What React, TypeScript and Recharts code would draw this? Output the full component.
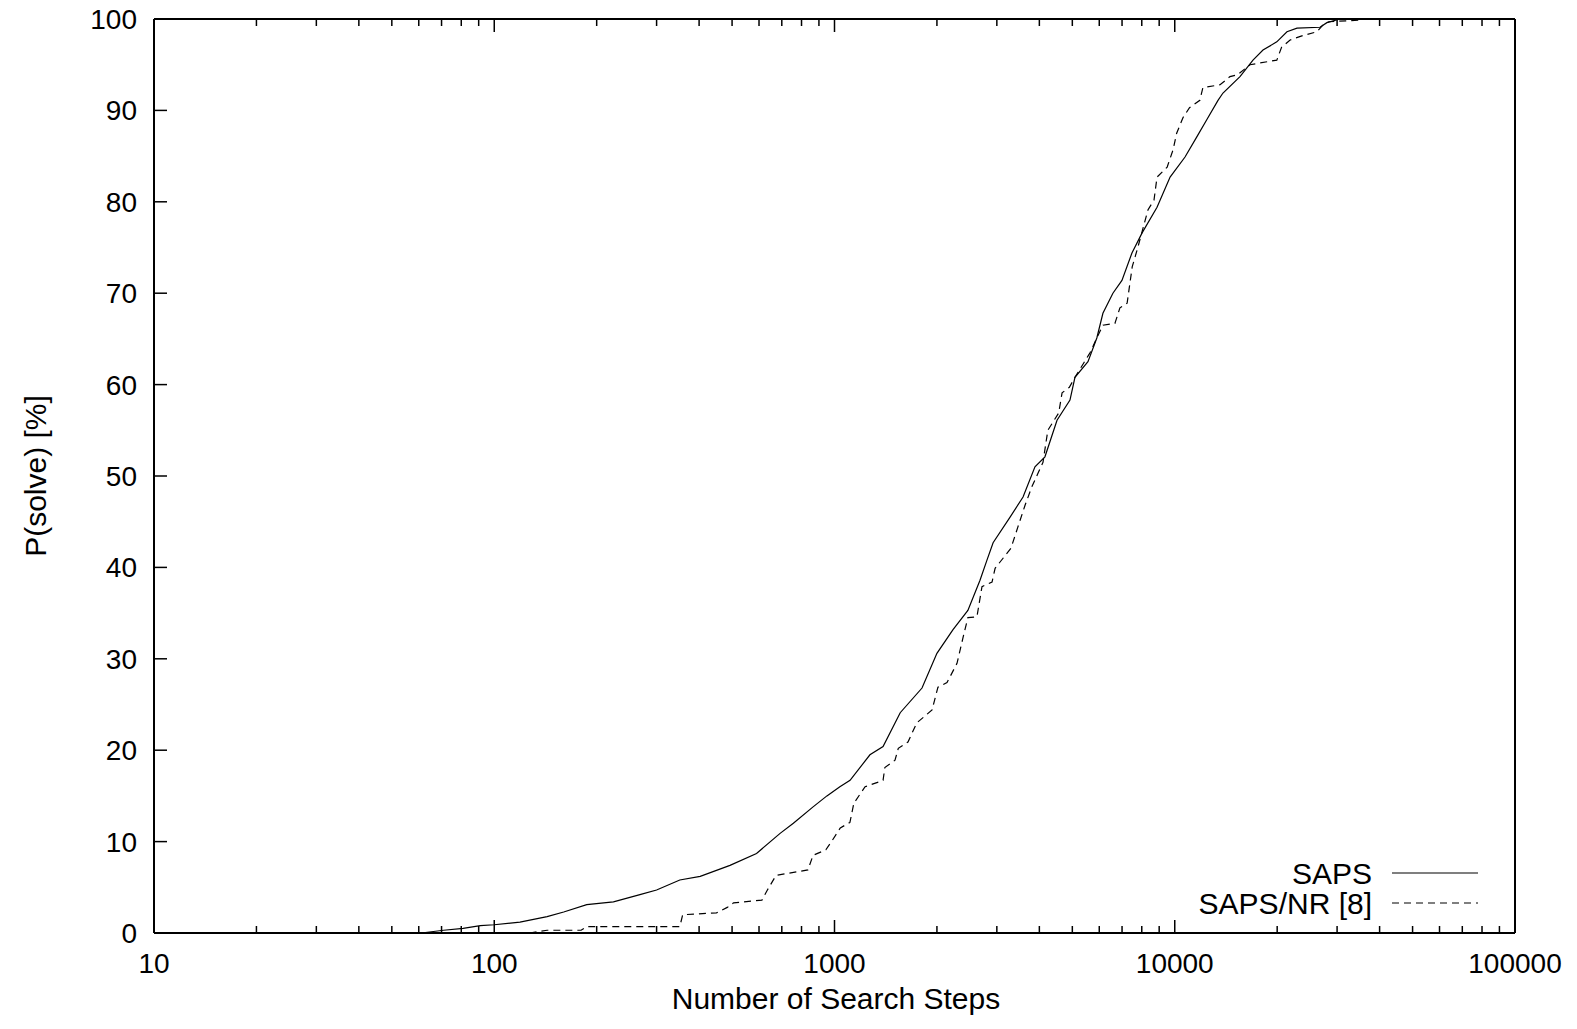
import { LineChart, Line, XAxis, YAxis } from "recharts";

// number of search steps vs cumulative P(solve) [%]
const sapsSteps = [
  45, 61, 71, 81, 91, 100, 119, 143, 160, 187, 224, 268, 300, 351, 403, 493, 590,
  692, 757, 865, 950, 1037, 1111, 1271, 1389, 1560, 1808, 2000, 2230, 2466, 2677,
  2806, 2925, 3281, 3582, 3883, 4154, 4508, 4921, 5090, 5558, 5902, 6150, 6580,
  6995, 7485, 8017, 8870, 9690, 10720, 11610, 12430, 13400, 13860, 15550, 16980,
  18170, 19950, 21370, 22870, 26720, 28000, 30600,
];
const sapsSolved = [
  0, 0, 0.3, 0.5, 0.8, 0.9, 1.2, 1.8, 2.3, 3.1, 3.4, 4.2, 4.7, 5.8, 6.2, 7.4, 8.7,
  10.9, 12.0, 13.8, 15.0, 16.0, 16.7, 19.5, 20.4, 24.1, 26.8, 30.6, 33.2, 35.3, 38.6,
  40.8, 42.7, 45.5, 47.7, 51.0, 52.1, 56.1, 58.3, 60.8, 62.5, 65.1, 67.8, 70.0,
  71.4, 74.4, 76.6, 79.4, 82.7, 84.9, 87.1, 89.0, 91.1, 91.9, 93.7, 95.5,
  96.6, 97.5, 98.6, 99.0, 99.1, 99.6, 100,
];

const nrSteps = [
  127, 143, 180, 187, 351, 358, 450, 484, 505, 612, 635, 673, 835, 865, 943, 980,
  1040, 1110, 1140, 1230, 1389, 1406, 1506, 1540, 1644, 1746, 1935, 2014, 2141,
  2291, 2389, 2466, 2622, 2713, 2904, 2965, 3300, 3458, 3631, 3800, 3963, 4100,
  4236, 4560, 4665, 4900, 5090, 5640, 5902, 6150, 6670, 6900, 7244, 7500, 7650,
  7800, 8340, 8690, 8870, 9500, 9890, 10130, 10570, 11050, 11850, 12100, 13590,
  14530, 15300, 16640, 19950, 20600, 21830, 23830, 26180, 27200, 28400, 35700,
];
const nrSolved = [
  0, 0.3, 0.3, 0.7, 0.7, 2.0, 2.2, 2.8, 3.3, 3.6, 4.7, 6.3, 6.9, 8.5, 9.1, 10.0,
  11.5, 12.1, 14.2, 16.0, 16.7, 18.1, 18.9, 20.2, 20.9, 23.0, 24.4, 26.9, 27.4,
  29.5, 32.4, 34.5, 34.6, 37.9, 38.4, 39.9, 42.1, 44.4, 46.8, 48.8, 50.3, 51.5,
  55.0, 56.9, 59.1, 59.7, 60.8, 63.5, 65.1, 66.5, 66.7, 68.4, 68.9, 72.9, 74.0,
  75.1, 79.1, 80.2, 82.7, 83.8, 85.7, 87.5, 89.2, 90.3, 91.1, 92.5, 92.8,
  93.7, 93.9, 95.0, 95.5, 96.9, 97.7, 98.2, 98.6, 99.3, 99.7, 99.9,
];

const xMajor = [10, 100, 1000, 10000, 100000];
const xTicks = [
  10, 20, 30, 40, 50, 60, 70, 80, 90,
  100, 200, 300, 400, 500, 600, 700, 800, 900,
  1000, 2000, 3000, 4000, 5000, 6000, 7000, 8000, 9000,
  10000, 20000, 30000, 40000, 50000, 60000, 70000, 80000, 90000,
  100000,
];
const yTicks = [0, 10, 20, 30, 40, 50, 60, 70, 80, 90, 100];

const sapsData = sapsSteps.map((s, i) => ({ steps: s, p: sapsSolved[i] }));
const nrData = nrSteps.map((s, i) => ({ steps: s, p: nrSolved[i] }));

const FONT = "'Liberation Sans', Arial, Helvetica, sans-serif";
const TICK_FS = 28;
const TITLE_FS = 30;

function XTick({ x, y, payload, side }: any) {
  const v = payload.value;
  const major = xMajor.includes(v);
  const len = major ? 13 : 7;
  const dir = side === "bottom" ? -1 : 1;
  return (
    <g>
      <line x1={x} x2={x} y1={y} y2={y + dir * len} stroke="#000" strokeWidth={1.5} />
      {side === "bottom" && major && (
        <text x={x} y={y + 40} textAnchor="middle" fontSize={TICK_FS} fontFamily={FONT} fill="#000">
          {v}
        </text>
      )}
    </g>
  );
}

function YTick({ x, y, payload, side }: any) {
  const dir = side === "left" ? 1 : -1;
  return (
    <g>
      <line x1={x} x2={x + dir * 13} y1={y} y2={y} stroke="#000" strokeWidth={1.5} />
      {side === "left" && (
        <text x={x - 17} y={y + 10} textAnchor="end" fontSize={TICK_FS} fontFamily={FONT} fill="#000">
          {payload.value}
        </text>
      )}
    </g>
  );
}

const frame = { stroke: "#000", strokeWidth: 2 };

export default function App() {
  return (
    <div style={{ position: "absolute", left: 0, top: 0, width: 1577, height: 1029, background: "#fff" }}>
      <LineChart
        width={1577}
        height={1029}
        margin={{ top: 18, right: 61, bottom: 56, left: 94 }}
      >
        <XAxis
          xAxisId="bottom"
          dataKey="steps"
          type="number"
          scale="log"
          domain={[10, 100000]}
          allowDataOverflow
          ticks={xTicks}
          interval={0}
          height={40}
          tickSize={0}
          tickMargin={0}
          axisLine={frame}
          tickLine={false}
          tick={(props: any) => <XTick {...props} side="bottom" />}
        />
        <XAxis
          xAxisId="top"
          orientation="top"
          dataKey="steps"
          type="number"
          scale="log"
          domain={[10, 100000]}
          allowDataOverflow
          ticks={xTicks}
          interval={0}
          height={1}
          tickSize={0}
          tickMargin={0}
          axisLine={frame}
          tickLine={false}
          tick={(props: any) => <XTick {...props} side="top" />}
        />
        <YAxis
          yAxisId="left"
          type="number"
          domain={[0, 100]}
          ticks={yTicks}
          interval={0}
          width={60}
          tickSize={0}
          tickMargin={0}
          axisLine={frame}
          tickLine={false}
          tick={(props: any) => <YTick {...props} side="left" />}
        />
        <YAxis
          yAxisId="right"
          orientation="right"
          type="number"
          domain={[0, 100]}
          ticks={yTicks}
          interval={0}
          width={1}
          tickSize={0}
          tickMargin={0}
          axisLine={frame}
          tickLine={false}
          tick={(props: any) => <YTick {...props} side="right" />}
        />
        <Line
          xAxisId="bottom"
          yAxisId="left"
          data={sapsData}
          dataKey="p"
          name="SAPS"
          type="linear"
          stroke="#000"
          strokeWidth={1.2}
          dot={false}
          isAnimationActive={false}
        />
        <Line
          xAxisId="bottom"
          yAxisId="left"
          data={nrData}
          dataKey="p"
          name="SAPS/NR [8]"
          type="linear"
          stroke="#000"
          strokeWidth={1.2}
          strokeDasharray="7 5"
          dot={false}
          isAnimationActive={false}
        />
      </LineChart>
      <svg
        width={1577}
        height={1029}
        style={{ position: "absolute", left: 0, top: 0, pointerEvents: "none" }}
        fontFamily={FONT}
        fontSize={TITLE_FS}
      >
        <text x={836} y={1009} textAnchor="middle" fill="#000">Number of Search Steps</text>
        <text x={46} y={476} textAnchor="middle" fill="#000" transform="rotate(-90 46 476)">
          P(solve) [%]
        </text>
        <text x={1372} y={884} textAnchor="end" fill="#000">SAPS</text>
        <line x1={1392} x2={1478} y1={873} y2={873} stroke="#000" strokeWidth={1.2} />
        <text x={1372} y={914} textAnchor="end" fill="#000">SAPS/NR [8]</text>
        <line x1={1392} x2={1478} y1={903} y2={903} stroke="#000" strokeWidth={1.2} strokeDasharray="7 5" />
      </svg>
    </div>
  );
}
